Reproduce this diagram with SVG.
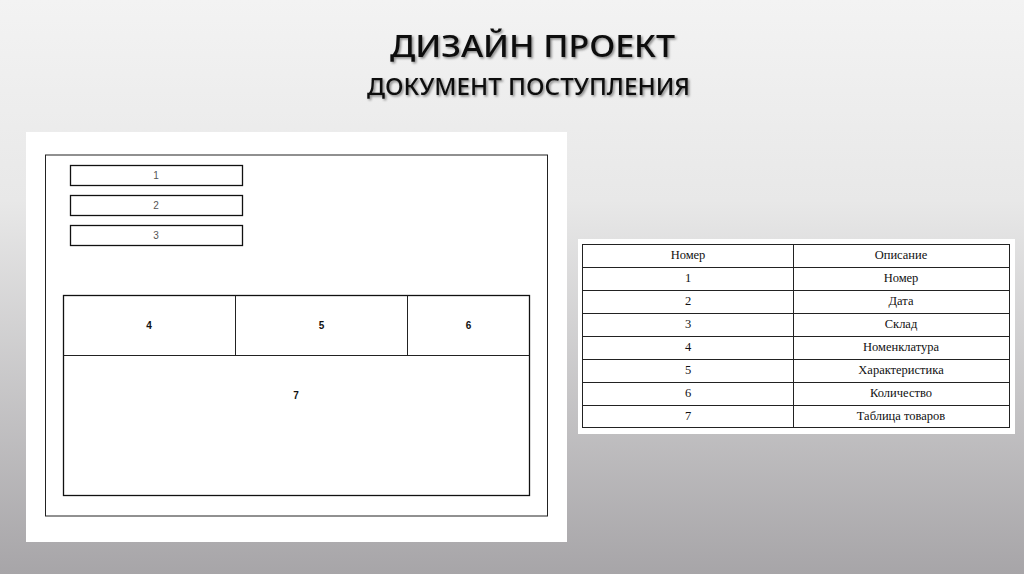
<svg xmlns="http://www.w3.org/2000/svg" width="1024" height="574" viewBox="0 0 1024 574">
<style>
.ln{fill:#fff;stroke:#111;stroke-width:1.3}
.thin{fill:none;stroke:#222;stroke-width:1}
.lb{font-family:"Liberation Sans Narrow","Liberation Sans",sans-serif;font-size:10px;text-anchor:middle}
.g{fill:#555}
.k{fill:#111;font-weight:bold}
.t{font-family:"Liberation Serif",serif;font-size:12.5px;fill:#111;text-anchor:middle}
.title{font-family:"Noto Sans","DejaVu Sans",sans-serif;fill:#111}
</style>
<defs>
<linearGradient id="bg" x1="0" y1="0" x2="0" y2="1">
<stop offset="0" stop-color="#f3f3f3"/>
<stop offset="0.35" stop-color="#e8e8e8"/>
<stop offset="1" stop-color="#a7a5a8"/>
</linearGradient>
<filter id="sh" x="-5%" y="-20%" width="110%" height="150%">
<feDropShadow dx="1.5" dy="1.5" stdDeviation="1" flood-color="#000" flood-opacity="0.45"/>
</filter>
</defs>
<rect width="1024" height="574" fill="url(#bg)"/>
<g id="title" class="title" filter="url(#sh)">
<text x="390" y="57" font-size="30" font-weight="500" textLength="285" lengthAdjust="spacingAndGlyphs">ДИЗАЙН ПРОЕКТ</text>
<text x="367" y="95" font-size="24" font-weight="500" textLength="323" lengthAdjust="spacingAndGlyphs">ДОКУМЕНТ ПОСТУПЛЕНИЯ</text>
</g>
<g id="form">
<rect x="26" y="132" width="541" height="410" fill="#fff"/>
<rect x="45.5" y="155" width="502" height="361" class="thin" stroke="#333"/>
<g id="field1"><rect x="70.5" y="165.5" width="172" height="20" class="ln"/><text x="156" y="179" class="lb g">1</text></g>
<g id="field2"><rect x="70.5" y="195.5" width="172" height="20" class="ln"/><text x="156" y="209" class="lb g">2</text></g>
<g id="field3"><rect x="70.5" y="225.5" width="172" height="20" class="ln"/><text x="156" y="239" class="lb g">3</text></g>
<g id="grid">
<rect x="63.5" y="295.5" width="466" height="200" class="ln"/>
<line x1="63.5" y1="355.5" x2="529.5" y2="355.5" class="thin" stroke-width="1.3"/>
<line x1="235.5" y1="295.5" x2="235.5" y2="355.5" class="thin" stroke-width="1.3"/>
<line x1="407.5" y1="295.5" x2="407.5" y2="355.5" class="thin" stroke-width="0.8"/>
<text x="149" y="329" class="lb k">4</text>
<text x="321.5" y="329" class="lb k">5</text>
<text x="468.5" y="329" class="lb k">6</text>
<text x="296" y="399" class="lb k">7</text>
</g>
</g>
<g id="legend">
<rect x="578" y="239" width="437" height="195" fill="#fff"/>
<rect x="582.5" y="244.5" width="427" height="183" class="thin" stroke="#111" stroke-width="1.2"/>
<line x1="793.5" y1="244.5" x2="793.5" y2="427.5" class="thin" stroke-width="1.2"/>
<g class="thin" stroke-width="1.2">
<line x1="582.5" y1="267.5" x2="1009.5" y2="267.5"/>
<line x1="582.5" y1="290.5" x2="1009.5" y2="290.5"/>
<line x1="582.5" y1="313.5" x2="1009.5" y2="313.5"/>
<line x1="582.5" y1="336.5" x2="1009.5" y2="336.5"/>
<line x1="582.5" y1="359.5" x2="1009.5" y2="359.5"/>
<line x1="582.5" y1="382.5" x2="1009.5" y2="382.5"/>
<line x1="582.5" y1="405.5" x2="1009.5" y2="405.5"/>
</g>
<text x="688" y="259" class="t">Номер</text><text x="901" y="259" class="t">Описание</text>
<text x="688" y="282" class="t">1</text><text x="901" y="282" class="t">Номер</text>
<text x="688" y="305" class="t">2</text><text x="901" y="305" class="t">Дата</text>
<text x="688" y="328" class="t">3</text><text x="901" y="328" class="t">Склад</text>
<text x="688" y="351" class="t">4</text><text x="901" y="351" class="t">Номенклатура</text>
<text x="688" y="374" class="t">5</text><text x="901" y="374" class="t">Характеристика</text>
<text x="688" y="397" class="t">6</text><text x="901" y="397" class="t">Количество</text>
<text x="688" y="420" class="t">7</text><text x="901" y="420" class="t">Таблица товаров</text>
</g>
</svg>
